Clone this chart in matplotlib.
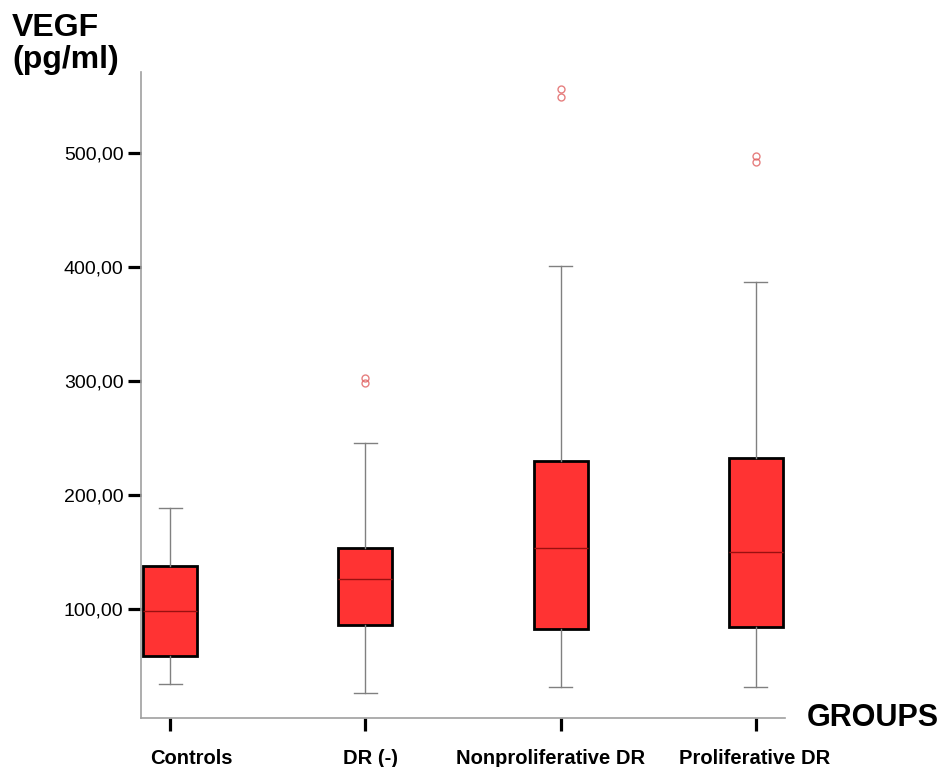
import matplotlib.pyplot as plt
from matplotlib.ticker import FuncFormatter
from matplotlib.transforms import ScaledTranslation

plt.rcParams['font.family'] = ['Liberation Sans', 'DejaVu Sans']

groups = ['Controls', 'DR (-)', 'Nonproliferative DR', 'Proliferative DR']
whis_low = [34.6, 26.7, 31.9, 31.9]
q1 = [59.1, 86.2, 82.7, 84.5]
median = [98.5, 126.5, 153.7, 150.2]
q3 = [137.9, 153.7, 230.2, 232.5]
whis_high = [189.0, 245.7, 400.7, 386.7]
outliers = [[], [298, 303], [549, 556], [492, 497]]
yticks = [100, 200, 300, 400, 500]

stats = []
for i, g in enumerate(groups):
    stats.append({'label': g, 'whislo': whis_low[i], 'q1': q1[i], 'med': median[i],
                  'q3': q3[i], 'whishi': whis_high[i], 'fliers': outliers[i]})

fig = plt.figure(figsize=(9.43, 7.67), dpi=100)
ax = fig.add_axes([0.1495, 0.0643, 0.6829, 0.8418])

pos = list(range(1, len(groups) + 1))
ax.bxp(stats, positions=pos, widths=0.277, patch_artist=True,
       boxprops=dict(facecolor='#ff3333', edgecolor='black', linewidth=2),
       medianprops=dict(color='#9a1010', linewidth=1),
       whiskerprops=dict(color='#808080', linewidth=1),
       capprops=dict(color='#808080', linewidth=1),
       capwidths=0.118,
       flierprops=dict(marker='o', markersize=5, markerfacecolor='none',
                       markeredgecolor='#e06060', markeredgewidth=1, alpha=0.8))

ax.set_xlim(0.85, 4.15)
ax.set_ylim(5, 571)
ax.set_yticks(yticks)
ax.yaxis.set_major_formatter(FuncFormatter(lambda v, p: f'{v:.2f}'.replace('.', ',')))
ax.set_xticks(pos)
ax.set_xticklabels(groups, fontweight='bold', fontsize=14.5)

ax.tick_params(axis='y', length=9.5, width=2.3, color='black', labelsize=14, pad=3)
ax.tick_params(axis='x', length=9.5, width=2.3, color='black', pad=13)

# labels in the original are not quite centred under their ticks
shifts = [21, 5, -10, -1]
for lab, dx in zip(ax.get_xticklabels(), shifts):
    lab.set_transform(lab.get_transform() + ScaledTranslation(dx / 100, 0, fig.dpi_scale_trans))

for s in ['top', 'right']:
    ax.spines[s].set_visible(False)
for s in ['left', 'bottom']:
    ax.spines[s].set_color('#a0a0a0')
    ax.spines[s].set_linewidth(1.2)

fig.text(0.013, 0.983, 'VEGF\n(pg/ml)', fontsize=23, fontweight='bold',
         va='top', ha='left', linespacing=1.1)
fig.text(0.856, 0.064, 'GROUPS', fontsize=22, fontweight='bold',
         va='center', ha='left')

fig.savefig('out.png', dpi=100)
